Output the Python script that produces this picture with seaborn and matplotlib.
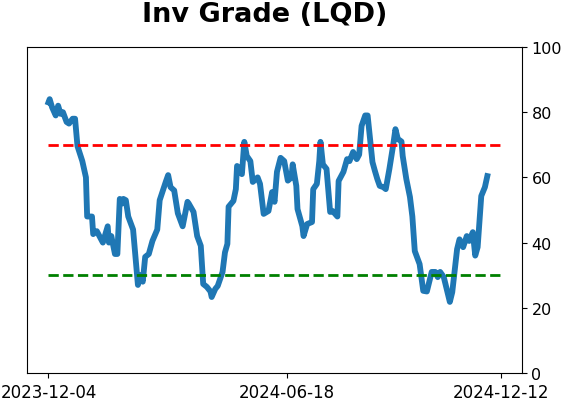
import numpy as np
import pandas as pd
import matplotlib
matplotlib.use("Agg")
import matplotlib.pyplot as plt
import seaborn as sns

start_date = "2023-12-04"

# days since start_date and the indicator value
days = [0, 1, 3, 6, 8, 10, 12, 15, 17, 20, 22, 24, 28, 31, 32, 36, 37, 40, 45, 49,
        50, 52, 55, 57, 59, 61, 62, 64, 66, 70, 74, 76, 78, 80, 83, 86, 90, 92, 97, 99,
        101, 104, 107, 109, 111, 115, 116, 120, 123, 126, 128, 131, 134, 135, 138, 140, 144, 146, 148, 149,
        153, 155, 156, 158, 160, 162, 164, 167, 169, 173, 175, 178, 182, 185, 187, 189, 192, 195, 198, 201,
        202, 205, 206, 210, 211, 214, 218, 219, 222, 224, 225, 227, 230, 233, 235, 239, 240, 244, 247, 249,
        252, 255, 257, 259, 262, 264, 268, 270, 272, 274, 277, 279, 282, 285, 287, 289, 292, 293, 296, 299,
        301, 303, 307, 310, 313, 317, 320, 322, 324, 327, 330, 332, 334, 338, 340, 343, 346, 348, 351, 353,
        355, 358, 361, 363]
values = [83, 84, 81.5, 79, 82, 79.5, 80, 77, 76.5, 78, 78, 69.6, 65, 60, 48, 48, 42.6, 43.5, 40, 45,
          40, 42, 36.5, 36.5, 53.4, 52, 53.4, 53, 48, 44, 27, 30, 28, 35.6, 36.5, 40.5, 44, 53, 58.6, 60.7,
          57, 56, 49, 47, 45, 52.5, 52, 49.4, 42, 39, 27.3, 26.4, 25, 23.3, 25.8, 26.7, 31, 37, 39.6, 51,
          52.8, 56.4, 63.5, 62.6, 61, 70.9, 66.6, 65, 58.6, 60, 58, 48.8, 49.7, 55.5, 52.5, 61.7, 66, 65, 59, 60,
          64, 57.4, 50.3, 45, 42, 45.7, 46.3, 56.4, 58, 65, 70.9, 64, 62.6, 49.4, 49.7, 48, 58.9, 61.7, 65.6, 65,
          67.8, 65.6, 67, 75.8, 79, 79, 64.7, 62, 59.5, 57.4, 57, 56.4, 62.6, 69.6, 74.8, 71.8, 71, 66.6, 59.5, 54,
          48, 37.4, 33.4, 25.2, 25, 31, 31, 29.4, 31, 29.4, 24.8, 21.8, 24.8, 38, 41, 38.6, 42, 40.5, 43.2, 36,
          38.6, 54.3, 57, 60.4]

upper_level = 70
lower_level = 30
tick_dates = ["2023-12-04", "2024-06-18", "2024-12-12"]

df = pd.DataFrame({"date": pd.to_datetime(start_date) + pd.to_timedelta(days, unit="D"),
                   "value": values})

fig = plt.figure(figsize=(5.62, 4.02), dpi=100)
ax = fig.add_axes([0.0475, 0.0697, 0.882, 0.8109])

sns.lineplot(data=df, x="date", y="value", color="#1f77b4", linewidth=4.2, ax=ax)

# threshold lines span the tick range
line_start = pd.Timestamp(tick_dates[0])
line_end = pd.Timestamp(tick_dates[-1])
ax.hlines(upper_level, line_start, line_end, colors="red", linestyles="--", linewidth=2)
ax.hlines(lower_level, line_start, line_end, colors="green", linestyles="--", linewidth=2)

ax.set_ylim(0, 100)
ax.set_xlim(pd.Timestamp("2023-11-16"), pd.Timestamp("2024-12-30"))
ax.set_xticks(pd.to_datetime(tick_dates))
ax.set_xticklabels(tick_dates, fontsize=12)
ax.yaxis.tick_right()
ax.set_yticks([0, 20, 40, 60, 80, 100])
ax.tick_params(axis="y", labelsize=11.5, pad=3)
ax.set_xlabel("")
ax.set_ylabel("")

fig.text(0.4715, 0.995, "Inv Grade (LQD)", fontsize=19.5, fontweight="bold",
         ha="center", va="top")

fig.savefig("out.png", dpi=100)
